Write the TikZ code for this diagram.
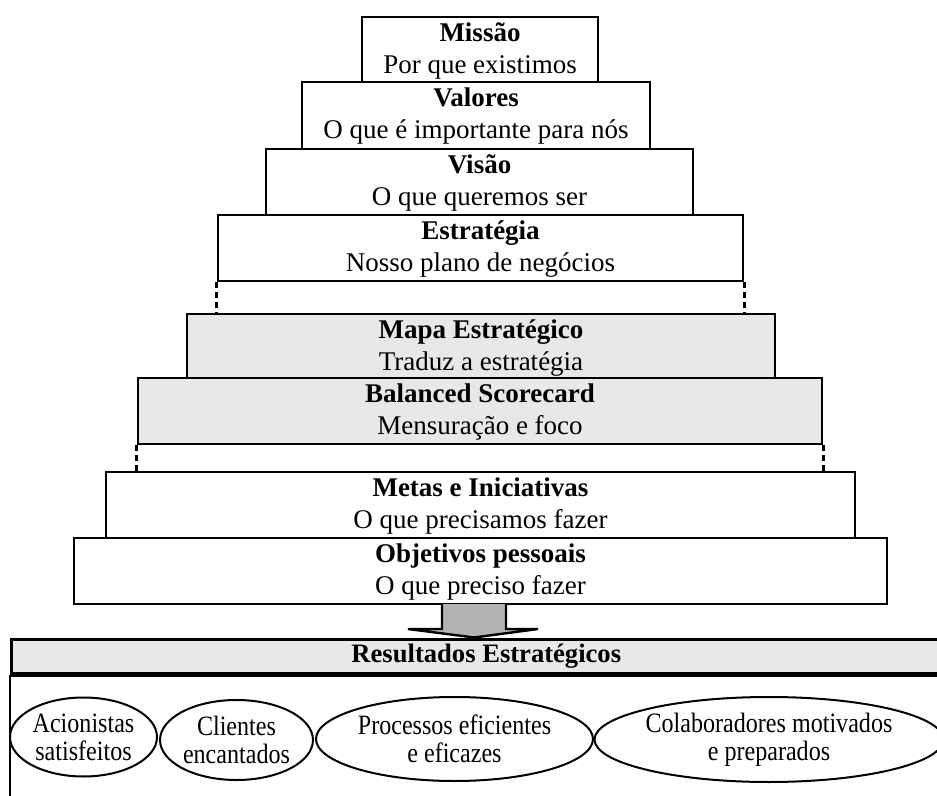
\documentclass[tikz,border=0pt]{standalone}
\usepackage{fontspec}
\setmainfont{Liberation Serif}
\newfontfamily\condensedserif[FakeStretch=0.86]{Liberation Serif}
\usetikzlibrary{shapes.geometric}

\definecolor{tierfill}{gray}{0.91}
\definecolor{arrowfill}{gray}{0.70}

% one level of the pyramid: box, bold title line, plain subtitle line
% #1 style, #2 name, #3 x, #4 y, #5 width, #6 height, #7 title, #8 subtitle
\newcommand\tierbox[8]{%
  \node[#1, minimum width=#5, minimum height=#6] (#2) at (#3,#4) {};
  \node[tiertitle] (#2-title) at ([yshift=-13pt]#2.north) {#7};
  \node[tiersub] (#2-sub) at ([yshift=-29pt]#2.north) {#8};
}

\begin{document}
\begin{tikzpicture}[x=0.5pt,y=-0.5pt,
  tier/.style={draw, line width=1.3pt, inner sep=0pt},
  shaded/.style={tier, fill=tierfill},
  tiertitle/.style={anchor=base, inner sep=0pt,
    font=\fontsize{13.5}{14}\selectfont\bfseries},
  tiersub/.style={anchor=base, inner sep=0pt,
    font=\fontsize{13.5}{14}\selectfont},
  dashline/.style={line width=1.3pt, dash pattern=on 3pt off 2pt},
  goal/.style={draw, ellipse, line width=1pt, inner sep=0pt, align=center,
    font=\condensedserif\fontsize{14}{14}\selectfont},
  header/.style={draw, line width=1.3pt, fill=tierfill, inner sep=0pt,
    font=\bfseries\fontsize{13.3}{14}\selectfont},
  blockarrow/.style={draw, line width=1.2pt, fill=arrowfill}
]
\clip (0,0) rectangle (937,796);
\fill[white] (0,0) rectangle (937,796);

% pyramid of tiers, top to bottom
\tierbox{tier}{missao}{480}{49.5}{118pt}{32.5pt}{Missão}{Por que existimos}
\tierbox{tier}{valores}{476}{115.5}{174pt}{33.5pt}{Valores}{O que é importante para nós}
\tierbox{tier}{visao}{479.5}{182}{213.5pt}{33pt}{Visão}{O que queremos ser}
\tierbox{tier}{estrategia}{480.5}{248}{262.5pt}{33pt}{Estratégia}{Nosso plano de negócios}
\tierbox{shaded}{mapa}{481}{346}{294pt}{32pt}{Mapa Estratégico}{Traduz a estratégia}
\tierbox{shaded}{bsc}{480}{411}{342pt}{33pt}{Balanced Scorecard}{Mensuração e foco}
\tierbox{tier}{metas}{480.5}{505}{374.5pt}{33pt}{Metas e Iniciativas}{O que precisamos fazer}
\tierbox{tier}{objetivos}{480.5}{571}{406.5pt}{33pt}{Objetivos pessoais}{O que preciso fazer}

% dashed links between groups of tiers
\draw[dashline] (estrategia.south west) -- (estrategia.south west |- mapa.north);
\draw[dashline] (estrategia.south east) -- (estrategia.south east |- mapa.north);
\draw[dashline] (bsc.south west) -- (bsc.south west |- metas.north);
\draw[dashline] (bsc.south east) -- (bsc.south east |- metas.north);

% results panel
\node[header, minimum width=475pt, minimum height=17pt, anchor=north west] (resultados)
  at (10,638) {Resultados Estratégicos};
\draw[line width=2pt] (resultados.south west) -- (resultados.south east);
\draw[line width=1.3pt] (resultados.south west) -- (10,830);

% block arrow from the pyramid into the results panel
\draw[blockarrow] (442,604) -- (442,629) -- (408,629) -- (474,637.5)
  -- (538,629) -- (506,629) -- (506,604);

% strategic results
\node[goal, minimum width=73.5pt, minimum height=39.5pt] (acionistas) at (83.5,737)
  {Acionistas\\satisfeitos};
\node[goal, minimum width=76.5pt, minimum height=40pt] (clientes) at (236.5,740)
  {Clientes\\encantados};
\node[goal, minimum width=138.5pt, minimum height=42pt] (processos) at (454.5,739)
  {Processos eficientes\\e eficazes};
\node[goal, minimum width=174pt, minimum height=42.5pt] (colaboradores) at (769,739.5)
  {Colaboradores motivados\\e preparados};
\end{tikzpicture}
\end{document}
